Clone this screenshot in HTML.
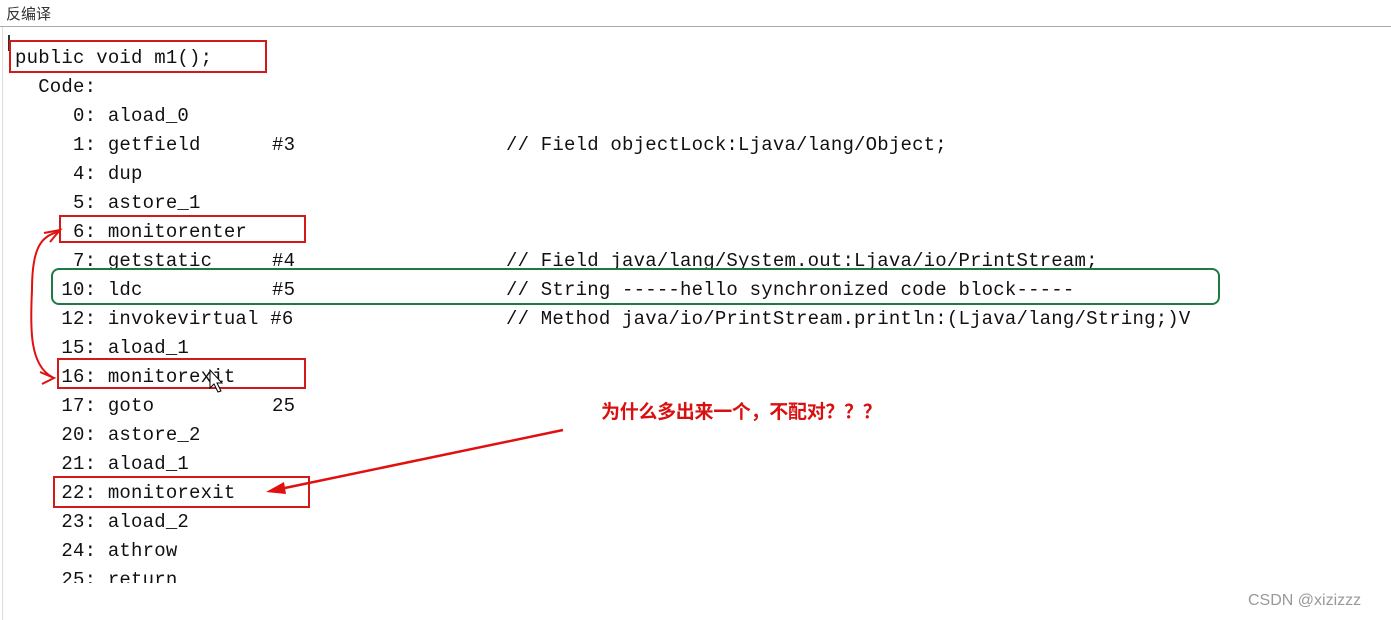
<!DOCTYPE html>
<html><head><meta charset="utf-8"><style>
body{margin:0;width:1391px;height:620px;background:#fff;position:relative;overflow:hidden;font-family:"Liberation Mono",monospace;}
.l{position:absolute;font-size:19px;letter-spacing:0.2px;white-space:pre;color:#111;line-height:20px;margin-top:1px;}
.b{position:absolute;border:2px solid #d21a1a;box-sizing:border-box;}
</style></head><body>
<div style="position:absolute;left:6px;top:3px;font:15px 'Noto Sans CJK SC',sans-serif;color:#333">反编译</div>
<div style="position:absolute;left:0;top:26px;width:1391px;height:1px;background:#aaa"></div>
<div style="position:absolute;left:2px;top:27px;width:1px;height:593px;background:#ddd"></div>
<div style="position:absolute;left:8px;top:35px;width:2px;height:16px;background:#333"></div>

<div class="l" style="left:15px;top:47px">public void m1();</div>
<div class="l" style="left:15px;top:76px">  Code:</div>
<div class="l" style="left:15px;top:105px">     0: aload_0</div>
<div class="l" style="left:15px;top:134px">     1: getfield</div><div class="l" style="left:272px;top:134px">#3</div><div class="l" style="left:506px;top:134px">// Field objectLock:Ljava/lang/Object;</div>
<div class="l" style="left:15px;top:163px">     4: dup</div>
<div class="l" style="left:15px;top:192px">     5: astore_1</div>
<div class="l" style="left:15px;top:221px">     6: monitorenter</div>
<div class="l" style="left:15px;top:250px">     7: getstatic</div><div class="l" style="left:272px;top:250px">#4</div><div class="l" style="left:506px;top:250px">// Field java/lang/System.out:Ljava/io/PrintStream;</div>
<div class="l" style="left:15px;top:279px">    10: ldc</div><div class="l" style="left:272px;top:279px">#5</div><div class="l" style="left:506px;top:279px">// String -----hello synchronized code block-----</div>
<div class="l" style="left:15px;top:308px">    12: invokevirtual #6</div><div class="l" style="left:506px;top:308px">// Method java/io/PrintStream.println:(Ljava/lang/String;)V</div>
<div class="l" style="left:15px;top:337px">    15: aload_1</div>
<div class="l" style="left:15px;top:366px">    16: monitorexit</div>
<div class="l" style="left:15px;top:395px">    17: goto</div><div class="l" style="left:272px;top:395px">25</div>
<div class="l" style="left:15px;top:424px">    20: astore_2</div>
<div class="l" style="left:15px;top:453px">    21: aload_1</div>
<div class="l" style="left:15px;top:482px">    22: monitorexit</div>
<div class="l" style="left:15px;top:511px">    23: aload_2</div>
<div class="l" style="left:15px;top:540px">    24: athrow</div>
<div class="l" style="left:15px;top:569px;height:13px;overflow:hidden">    25: return</div>

<div class="b" style="left:9px;top:40px;width:258px;height:33px"></div>
<div class="b" style="left:59px;top:215px;width:247px;height:28px"></div>
<div class="b" style="left:57px;top:358px;width:249px;height:31px"></div>
<div class="b" style="left:53px;top:476px;width:257px;height:32px"></div>
<div style="position:absolute;left:51px;top:268px;width:1169px;height:37px;border:2px solid #1d7a45;border-radius:8px;box-sizing:border-box"></div>

<div style="position:absolute;left:601px;top:397px;font:bold 19px 'Noto Sans CJK SC',sans-serif;color:#d81010;letter-spacing:-0.3px">为什么多出来一个，不配对？？？</div>

<svg width="1391" height="620" style="position:absolute;left:0;top:0">
<path d="M58,232 C40,236 32,250 32,290 C30,330 30,365 52,377" fill="none" stroke="#e01010" stroke-width="2"/>
<path d="M44,233 L60,230 L50,242" fill="none" stroke="#e01010" stroke-width="2"/>
<path d="M40,372 L54,378 L42,384" fill="none" stroke="#e01010" stroke-width="2"/>
<line x1="563" y1="430" x2="280" y2="489" stroke="#e01010" stroke-width="2.5"/>
<polygon points="266,492 284,482 286,494" fill="#e01010"/>
<path d="M210,370 L210,388 L214,384 L218,392 L221,391 L217,383 L222,383 Z" fill="#fff" stroke="#000" stroke-width="1"/>
</svg>
<div style="position:absolute;left:1248px;top:592px;font:16px 'Liberation Sans',sans-serif;color:#999">CSDN @xizizzz</div>
</body></html>
